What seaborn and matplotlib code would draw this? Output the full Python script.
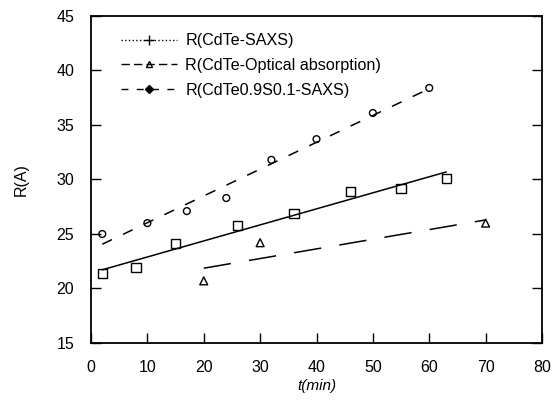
import numpy as np
import pandas as pd
import matplotlib
matplotlib.use("Agg")
import matplotlib.pyplot as plt
from matplotlib.lines import Line2D
import seaborn as sns

# CdTe radius from SAXS
t_saxs = [2, 8, 15, 26, 36, 46, 55, 63]
r_saxs = [21.4, 21.9, 24.1, 25.8, 26.9, 28.9, 29.2, 30.1]

# CdTe radius from optical absorption
t_opt = [20, 30, 70]
r_opt = [20.7, 24.2, 26.0]

# CdTe0.9S0.1 radius from SAXS
t_cdtes = [2, 10, 17, 24, 32, 40, 50, 60]
r_cdtes = [25.0, 26.0, 27.1, 28.3, 31.8, 33.7, 36.1, 38.4]

labels = ["R(CdTe-SAXS)", "R(CdTe-Optical absorption)", "R(CdTe0.9S0.1-SAXS)"]
x_ticks = [0, 10, 20, 30, 40, 50, 60, 70, 80]
y_ticks = [15, 20, 25, 30, 35, 40, 45]

sns.set_style("ticks")
plt.rcParams["font.family"] = ["Liberation Sans", "DejaVu Sans"]
plt.rcParams["font.size"] = 10.5
plt.rcParams["text.color"] = "k"
plt.rcParams["axes.labelcolor"] = "k"

fig = plt.figure(figsize=(5.53, 4.04), dpi=100)
ax = fig.add_axes([91 / 553, 1 - 343 / 404, 451 / 553, 327 / 404])

df_saxs = pd.DataFrame({"t": t_saxs, "R": r_saxs})
df_opt = pd.DataFrame({"t": t_opt, "R": r_opt})
df_cdtes = pd.DataFrame({"t": t_cdtes, "R": r_cdtes})

# linear fits through each series
sns.regplot(data=df_saxs, x="t", y="R", ax=ax, ci=None, color="k", marker="s",
            scatter_kws={"facecolors": "none", "s": 45, "linewidths": 1.0, "alpha": 1},
            line_kws={"lw": 1.1, "ls": "-"})
sns.regplot(data=df_opt, x="t", y="R", ax=ax, ci=None, color="k", marker="^",
            scatter_kws={"facecolors": "none", "s": 32, "linewidths": 1.0, "alpha": 1},
            line_kws={"lw": 1.1, "ls": (0, (18, 12))})
sns.regplot(data=df_cdtes, x="t", y="R", ax=ax, ci=None, color="k", marker="o",
            scatter_kws={"facecolors": "none", "s": 24, "linewidths": 1.0, "alpha": 1},
            line_kws={"lw": 1.1, "ls": (0, (7, 8))})

ax.set_xlim(0, 80)
ax.set_ylim(15, 45)
ax.set_xticks(x_ticks)
ax.set_yticks(y_ticks)
ax.tick_params(axis="both", direction="in", length=7, width=1.0, labelsize=11.5,
               colors="k")
ax.tick_params(axis="x", pad=12)
ax.tick_params(axis="y", pad=12, right=True)
for s in ax.spines.values():
    s.set_linewidth(1.3)
    s.set_color("k")
    s.set_visible(True)

ax.set_xlabel("t(min)", fontsize=11, style="italic", labelpad=3)
ax.set_ylabel("R(A)", fontsize=11.5, labelpad=20)

handles = [
    Line2D([], [], color="k", lw=1.0, ls=":", marker="+", markersize=7),
    Line2D([], [], color="k", lw=1.0, ls=(0, (6, 3)), marker="^", markersize=4,
           markerfacecolor="none"),
    Line2D([], [], color="k", lw=1.0, ls=(0, (5, 6)), marker="D", markersize=4),
]
ax.legend(handles, labels, loc="upper left", bbox_to_anchor=(0.066, 0.947),
          frameon=False, borderaxespad=0, borderpad=0, handlelength=3.5,
          handletextpad=0.5, labelspacing=0.6, fontsize=11.6)

fig.savefig("out.png", dpi=100)
